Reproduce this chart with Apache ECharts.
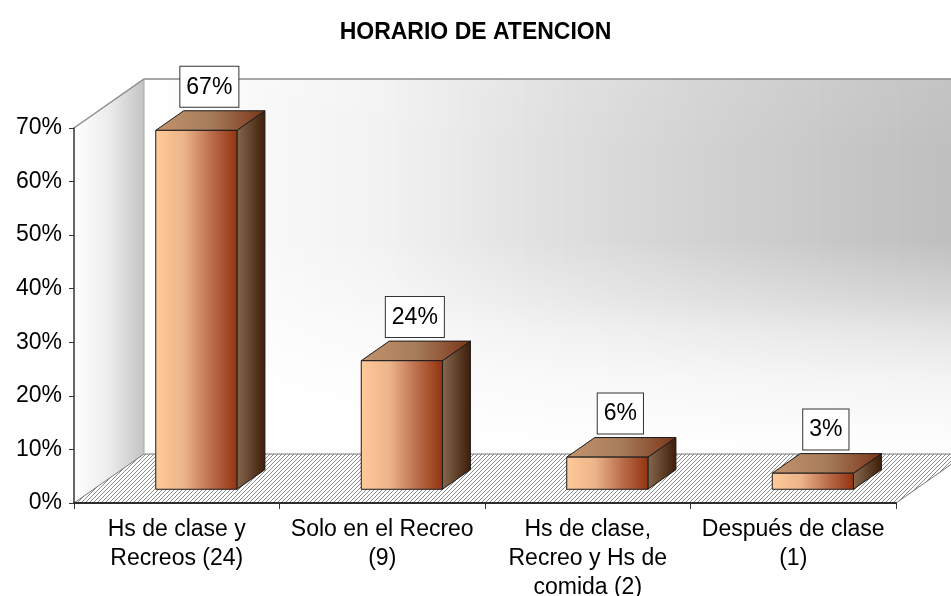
<!DOCTYPE html>
<html>
<head>
<meta charset="utf-8">
<script src="https://cdn.jsdelivr.net/npm/echarts@6/dist/echarts.min.js"></script>
<style>
  html, body { margin: 0; padding: 0; background: #fff; }
  #main { width: 951px; height: 596px; }
</style>
</head>
<body>
<div id="main"></div>
<script>
var categories = [
    'Hs de clase y\nRecreos (24)',
    'Solo en el Recreo\n(9)',
    'Hs de clase,\nRecreo y Hs de\ncomida (2)',
    'Después de clase\n(1)'
];
var values = [0.67, 0.24, 0.06, 0.03];
var yTicks = [0, 0.1, 0.2, 0.3, 0.4, 0.5, 0.6, 0.7];

var FONT = '"Liberation Sans", Arial, sans-serif';

// depth of the 3d box (walls / floor), and where the bars sit inside it
var DEPTH_X = 70, DEPTH_Y = -49;
var BAR_FRONT = 0.28, BAR_BACK = 0.68;

// hatched floor
var hatch = document.createElement('canvas');
hatch.width = 4;
hatch.height = 4;
(function () {
    var c = hatch.getContext('2d');
    c.fillStyle = '#ffffff';
    c.fillRect(0, 0, 4, 4);
    c.strokeStyle = '#8c8c8c';
    c.lineWidth = 1;
    c.beginPath();
    c.moveTo(-1, 5); c.lineTo(5, -1);
    c.moveTo(-1, 1); c.lineTo(1, -1);
    c.moveTo(3, 5); c.lineTo(5, 3);
    c.stroke();
})();

// grey shade of the back wall: darkest top right, fading left and down
var wallShade = null;
function getWallShade(w, h) {
    w = Math.round(w);
    h = Math.round(h);
    if (wallShade && wallShade.width === w && wallShade.height === h) {
        return wallShade;
    }
    var shade = document.createElement('canvas');
    shade.width = w;
    shade.height = h;
    var s = shade.getContext('2d');
    var gx = s.createLinearGradient(0, 0, w, 0);
    [[0, 0], [0.07, 0.05], [0.29, 0.21], [0.49, 0.49], [0.68, 0.71], [0.86, 0.9], [0.98, 1], [1, 1]]
        .forEach(function (p) { gx.addColorStop(p[0], 'rgba(0,0,0,' + (0.25 * p[1]) + ')'); });
    s.fillStyle = gx;
    s.fillRect(0, 0, w, h);
    s.globalCompositeOperation = 'destination-in';
    var gy = s.createLinearGradient(0, 0, 0, h);
    [[0, 0.92], [0.19, 1], [0.43, 1], [0.59, 0.65], [0.67, 0.42], [0.8, 0.18], [1, 0]]
        .forEach(function (p) { gy.addColorStop(p[0], 'rgba(0,0,0,' + p[1] + ')'); });
    s.fillStyle = gy;
    s.fillRect(0, 0, w, h);

    wallShade = document.createElement('canvas');
    wallShade.width = w;
    wallShade.height = h;
    var c = wallShade.getContext('2d');
    c.fillStyle = '#ffffff';
    c.fillRect(0, 0, w, h);
    c.drawImage(shade, 0, 0);
    return wallShade;
}

var myChart = echarts.init(document.getElementById('main'));

function renderWalls(params, api) {
    var cs = params.coordSys;
    var x0 = cs.x, x1 = cs.x + cs.width, yTop = cs.y, yBot = cs.y + cs.height;
    var dx = DEPTH_X, dy = DEPTH_Y;
    var wx0 = x0 + dx, wx1 = x1 + dx, wy0 = yTop + dy, wy1 = yBot + dy;
    return {
        type: 'group',
        children: [{
            // back wall
            type: 'image',
            style: {
                image: getWallShade(wx1 - wx0, wy1 - wy0),
                x: wx0, y: wy0, width: wx1 - wx0, height: wy1 - wy0
            }
        }, {
            // left wall
            type: 'polygon',
            shape: { points: [[x0, yTop], [wx0, wy0], [wx0, wy1], [x0, yBot]] },
            style: {
                fill: {
                    type: 'linear', x: 0, y: 0, x2: 1, y2: 0,
                    colorStops: [
                        { offset: 0, color: '#ffffff' },
                        { offset: 0.5, color: '#ececec' },
                        { offset: 1, color: '#c4c4c4' }
                    ]
                },
                stroke: null
            }
        }, {
            // floor
            type: 'polygon',
            shape: { points: [[x0, yBot], [x1, yBot], [wx1, wy1], [wx0, wy1]] },
            style: { fill: { image: hatch, repeat: 'repeat' }, stroke: '#777777', lineWidth: 1 }
        }, {
            type: 'polyline',
            shape: { points: [[x0, yTop], [wx0, wy0], [wx1, wy0]] },
            style: { stroke: '#8c8c8c', lineWidth: 1.5, fill: null }
        }, {
            type: 'line',
            shape: { x1: wx0, y1: wy0, x2: wx0, y2: wy1 },
            style: { stroke: '#a8a8a8', lineWidth: 1 }
        }]
    };
}

function renderBar(params, api) {
    var i = api.value(0), v = api.value(1);
    var base = api.coord([i, 0]);
    var top = api.coord([i, v]);
    var band = api.size([1, 0])[0];
    var w = band * 0.395;
    var fdx = DEPTH_X * BAR_FRONT, fdy = DEPTH_Y * BAR_FRONT;
    var bdx = DEPTH_X * (BAR_BACK - BAR_FRONT), bdy = DEPTH_Y * (BAR_BACK - BAR_FRONT);
    var xl = base[0] - w / 2 + fdx, xr = xl + w;
    var yt = top[1] + fdy, yb = base[1] + fdy;
    var edge = { stroke: '#1a1a1a', lineWidth: 1 };
    return {
        type: 'group',
        children: [{
            type: 'polygon',
            shape: { points: [[xr, yt], [xr + bdx, yt + bdy], [xr + bdx, yb + bdy], [xr, yb]] },
            style: Object.assign({
                fill: {
                    type: 'linear', x: 0, y: 0, x2: 1, y2: 0,
                    colorStops: [
                        { offset: 0, color: '#86684e' },
                        { offset: 1, color: '#3e1c08' }
                    ]
                }
            }, edge)
        }, {
            type: 'polygon',
            shape: { points: [[xl, yt], [xl + bdx, yt + bdy], [xr + bdx, yt + bdy], [xr, yt]] },
            style: Object.assign({
                fill: {
                    type: 'linear', x: 0, y: 0, x2: 1, y2: 0,
                    colorStops: [
                        { offset: 0, color: '#c4946c' },
                        { offset: 0.5, color: '#a67c5c' },
                        { offset: 1, color: '#7a3416' }
                    ]
                }
            }, edge)
        }, {
            type: 'rect',
            shape: { x: xl, y: yt, width: w, height: yb - yt },
            style: Object.assign({
                fill: {
                    type: 'linear', x: 0, y: 0, x2: 1, y2: 0,
                    colorStops: [
                        { offset: 0, color: '#ffca98' },
                        { offset: 0.35, color: '#ecb48a' },
                        { offset: 0.7, color: '#b86a48' },
                        { offset: 1, color: '#933210' }
                    ]
                }
            }, edge)
        }, {
            type: 'text',
            style: {
                text: Math.round(v * 100) + '%',
                x: xl + (w + bdx) / 2 - 1,
                y: yt + bdy - 4,
                align: 'center',
                verticalAlign: 'bottom',
                font: '23px ' + FONT,
                fill: '#000',
                backgroundColor: '#fff',
                borderColor: '#333',
                borderWidth: 1,
                padding: [9, 6, 8, 6]
            }
        }]
    };
}

myChart.setOption({
    animation: false,
    backgroundColor: '#ffffff',
    title: {
        text: 'HORARIO DE ATENCION',
        left: 'center',
        top: 16,
        textStyle: { fontFamily: FONT, fontSize: 23, fontWeight: 'bold', color: '#000' }
    },
    grid: { left: 74, right: 55, top: 128, bottom: 93, containLabel: false, outerBoundsMode: 'none' },
    xAxis: {
        type: 'category',
        data: categories,
        axisLine: { lineStyle: { color: '#000', width: 1.5 } },
        axisTick: { show: true, interval: 0, length: 6, lineStyle: { color: '#333' } },
        axisLabel: {
            interval: 0, margin: 12, color: '#000',
            fontFamily: FONT, fontSize: 23, lineHeight: 29
        },
        splitLine: { show: false }
    },
    yAxis: {
        type: 'value',
        min: 0,
        max: yTicks[yTicks.length - 1],
        interval: 0.1,
        axisLine: { show: true, lineStyle: { color: '#333', width: 1.5 } },
        axisTick: { show: true, length: 5, lineStyle: { color: '#333' } },
        axisLabel: {
            margin: 12, color: '#000', fontFamily: FONT, fontSize: 23,
            formatter: function (val) { return Math.round(val * 100) + '%'; }
        },
        splitLine: { show: false }
    },
    series: [{
        type: 'custom',
        name: 'walls',
        z: -1,
        silent: true,
        renderItem: renderWalls,
        data: [[0, 0]]
    }, {
        type: 'custom',
        name: 'horario',
        renderItem: renderBar,
        data: values.map(function (v, i) { return [i, v]; })
    }]
});
</script>
</body>
</html>
